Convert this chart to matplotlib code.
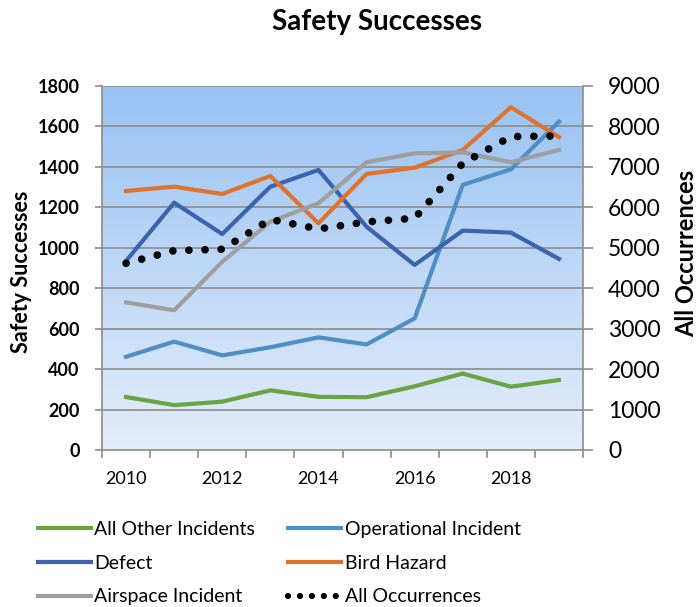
import numpy as np
import matplotlib
matplotlib.use("Agg")
import matplotlib.pyplot as plt
from matplotlib.lines import Line2D

years = [2010, 2011, 2012, 2013, 2014, 2015, 2016, 2017, 2018, 2019]
all_other = [262, 222, 239, 295, 263, 261, 315, 378, 313, 346]
operational = [461, 536, 468, 508, 557, 522, 651, 1311, 1388, 1624]
defect = [935, 1223, 1068, 1302, 1385, 1104, 915, 1085, 1075, 945]
bird = [1281, 1302, 1266, 1355, 1121, 1365, 1396, 1484, 1695, 1547]
airspace = [730, 691, 931, 1129, 1220, 1423, 1467, 1472, 1423, 1484]
all_occ = [4617, 4930, 4963, 5700, 5465, 5640, 5730, 7090, 7748, 7765]

c_green = "#6AA342"
c_light = "#4E8FC6"
c_dark = "#3C64AE"
c_orange = "#E0732C"
c_gray = "#9E9E9E"

plt.rcParams['font.family'] = ['Lato', 'DejaVu Sans']

W, H = 700, 607
fig = plt.figure(figsize=(W/100, H/100), dpi=100)
L, R, T, B = 102, 583, 86, 450
ax = fig.add_axes([L/W, 1-B/H, (R-L)/W, (B-T)/H])
ax2 = ax.twinx()

x = np.arange(len(years))
ax.set_xlim(-0.5, len(years) - 0.5)
ax.set_ylim(0, 1800)
ax2.set_ylim(0, 9000)

# gradient background
top = np.array([152, 194, 243]) / 255
bot = np.array([228, 237, 250]) / 255
t = np.linspace(0, 1, 256)[:, None]
grad = (top * (1 - t) + bot * t)[:, None, :]
ax.imshow(grad, extent=[-0.5, len(years) - 0.5, 0, 1800], aspect='auto', zorder=0, origin='upper')

for v in range(200, 1801, 200):
    ax.axhline(v, color='#8C8C8C', lw=1.2, zorder=1)

lw = 3.0
ax.plot(x, all_other, color=c_green, lw=lw, zorder=3)
ax.plot(x, operational, color=c_light, lw=lw, zorder=3)
ax.plot(x, defect, color=c_dark, lw=lw, zorder=3)
ax.plot(x, bird, color=c_orange, lw=lw, zorder=3)
ax.plot(x, airspace, color=c_gray, lw=lw, zorder=3)
ax2.plot(x, all_occ, color='black', lw=5.5, linestyle=(0, (0.01, 2.1)),
         dash_capstyle='round', zorder=4)

ax.set_yticks(range(0, 1801, 200))
ax.set_yticklabels([str(v) for v in range(0, 1801, 200)], fontsize=13, fontweight='bold')
ax2.set_yticks(range(0, 9001, 1000))
ax2.set_yticklabels([str(v) for v in range(0, 9001, 1000)], fontsize=16.5)

ax.set_xticks(x[::2])
ax.set_xticklabels([str(y) for y in years[::2]], fontsize=13)
ax.set_xticks(np.arange(-0.5, len(years), 1), minor=True)
ax.tick_params(axis='x', which='major', length=0, pad=15)
ax.tick_params(axis='x', which='minor', length=6, color='#8C8C8C', width=1.2)
ax.tick_params(axis='y', length=5, color='#8C8C8C', width=1.2, pad=11)
ax2.tick_params(axis='y', length=7, color='#8C8C8C', width=1.2, pad=11)

for a in (ax, ax2):
    for s in a.spines.values():
        s.set_visible(False)
for a, side in ((ax, 'left'), (ax, 'bottom'), (ax2, 'right')):
    a.spines[side].set_visible(True)
    a.spines[side].set_color('#8C8C8C')
    a.spines[side].set_linewidth(1.2)

ax.set_ylabel("Safety Successes", fontsize=15.5, fontweight='bold')
ax.yaxis.set_label_coords((22 - L) / (R - L), (B - 272) / (B - T))
ax.yaxis.label.set_ha('center')
ax.yaxis.label.set_va('center')
ax2.set_ylabel("All Occurrences", fontsize=17, fontweight='bold')
ax2.yaxis.set_label_coords((687 - L) / (R - L), (B - 253) / (B - T))
ax2.yaxis.label.set_ha('center')
ax2.yaxis.label.set_va('center')
fig.text(377/W, 1-22/H, "Safety Successes", ha='center', va='center', fontsize=20, fontweight='bold')

handles = [
    Line2D([], [], color=c_green, lw=3),
    Line2D([], [], color=c_dark, lw=3),
    Line2D([], [], color=c_gray, lw=3),
    Line2D([], [], color=c_light, lw=3),
    Line2D([], [], color=c_orange, lw=3),
    Line2D([], [], color='black', lw=4.5, linestyle=(0, (0.01, 1.9)), dash_capstyle='round'),
]
labels = ["All Other Incidents", "Defect", "Airspace Incident",
          "Operational Incident", "Bird Hazard", "All Occurrences"]
fig.legend(handles, labels, ncol=2, loc='upper left', bbox_to_anchor=(38/W, 1-521/H),
           frameon=False, fontsize=14, handlelength=2.7, handletextpad=0.2,
           columnspacing=1.7, labelspacing=0.86, borderaxespad=0, borderpad=0)

fig.savefig("out.png", dpi=100)
